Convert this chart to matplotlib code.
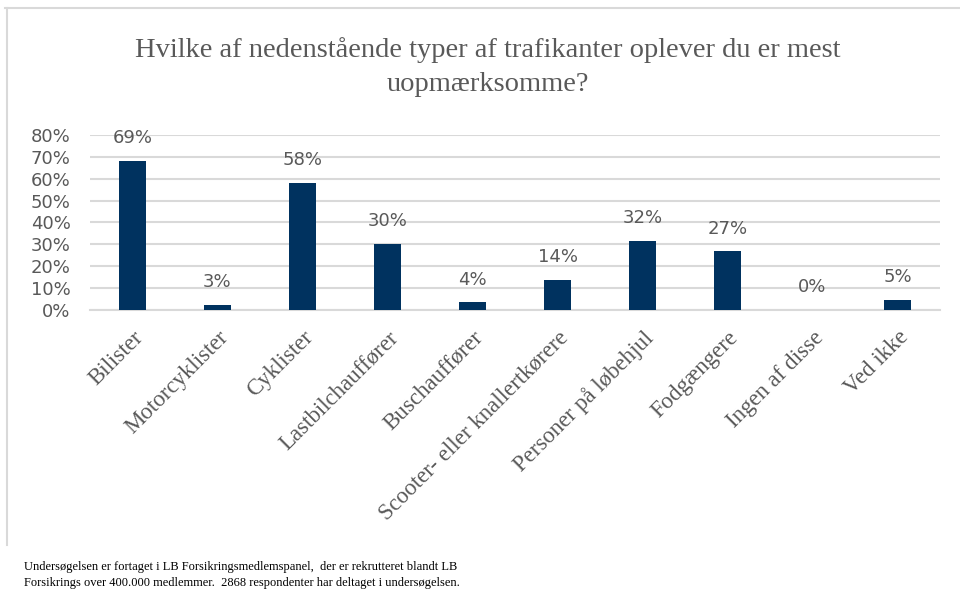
import matplotlib
matplotlib.use("Agg")
import matplotlib.pyplot as plt
from matplotlib.lines import Line2D

categories = ["Bilister", "Motorcyklister", "Cyklister", "Lastbilchauffører",
              "Buschauffører", "Scooter- eller knallertkørere", "Personer på løbehjul",
              "Fodgængere", "Ingen af disse", "Ved ikke"]
values = [0.682, 0.025, 0.579, 0.302, 0.036, 0.138, 0.316, 0.268, 0.0, 0.046]
labels = ["69%", "3%", "58%", "30%", "4%", "14%", "32%", "27%", "0%", "5%"]
yticks = [0, 0.1, 0.2, 0.3, 0.4, 0.5, 0.6, 0.7, 0.8]
ytick_labels = ["0%", "10%", "20%", "30%", "40%", "50%", "60%", "70%", "80%"]

title = "Hvilke af nedenstående typer af trafikanter oplever du er mest\nuopmærksomme?"
footnote = ("Undersøgelsen er fortaget i LB Forsikringsmedlemspanel,  der er rekrutteret blandt LB\n"
            "Forsikrings over 400.000 medlemmer.  2868 respondenter har deltaget i undersøgelsen.")

W, H = 960, 600
fig = plt.figure(figsize=(9.6, 6.0), dpi=100)
fig.patch.set_facecolor("white")

# outer border (partial frame as in reference)
fig.add_artist(Line2D([5 / W, 1.0], [1 - 8 / H, 1 - 8 / H], color="#d9d9d9", lw=1.5))
fig.add_artist(Line2D([7 / W, 7 / W], [1 - 8 / H, 1 - 545 / H], color="#d9d9d9", lw=1.5))

ax = fig.add_axes([90 / W, 1 - 310.3 / H, 850 / W, (310.3 - 134.7) / H])
x = list(range(len(categories)))
bars = ax.bar(x, values, width=0.31, color="#00325f", zorder=3)
ax.set_xlim(-0.5, len(categories) - 0.5)
ax.set_ylim(0, 0.8)
ax.set_yticks(yticks)
ax.set_yticklabels(ytick_labels, fontfamily="DejaVu Sans", fontsize=13, color="#595959")
ax.tick_params(axis="y", length=0, pad=14)
ax.tick_params(axis="x", length=0, pad=12)
ax.grid(axis="y", color="#d9d9d9", lw=1.5, zorder=0)
ax.set_axisbelow(True)
for s in ["top", "right", "left"]:
    ax.spines[s].set_visible(False)
ax.spines["bottom"].set_color("#d9d9d9")
ax.spines["bottom"].set_linewidth(1.5)

ax.set_xticks(x)
ax.set_xticklabels(categories, rotation=45, ha="right", va="top", rotation_mode="anchor",
                   fontfamily="Liberation Serif", fontsize=16.5, color="#595959")

for xi, v, lab in zip(x, values, labels):
    ax.annotate(lab, (xi, v), xytext=(0, 10), textcoords="offset points",
                ha="center", va="bottom", fontfamily="DejaVu Sans", fontsize=13,
                color="#595959")

fig.text(488 / W, 1 - 67 / H, title, ha="center", va="center", fontfamily="Liberation Serif",
         fontsize=20.5, color="#595959", linespacing=1.5)

fig.text(24 / W, 1 - 575 / H, footnote, ha="left", va="center", fontfamily="Liberation Serif",
         fontsize=9, color="#000000", linespacing=1.45)

fig.savefig("out.png", dpi=100, facecolor="white")
